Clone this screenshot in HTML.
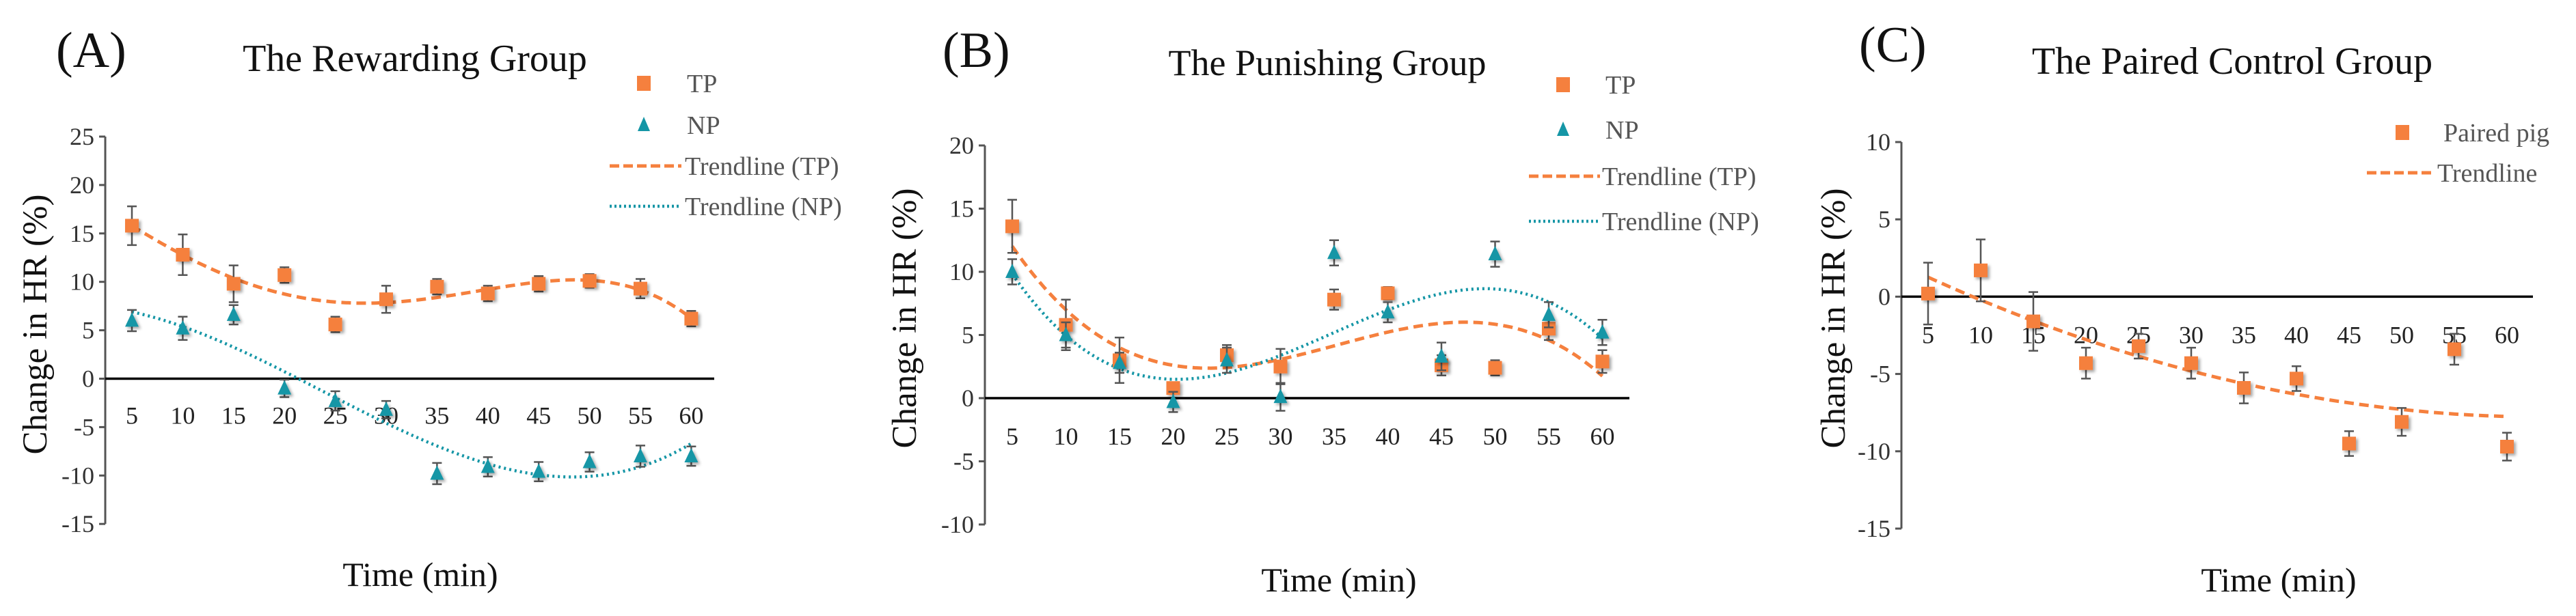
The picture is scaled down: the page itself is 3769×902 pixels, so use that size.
<!DOCTYPE html>
<html><head><meta charset="utf-8"><style>
html,body{margin:0;padding:0;background:#fff;}
svg{display:block;font-family:"Liberation Serif",serif;}
</style></head><body>
<svg id="fig" width="3769" height="902" viewBox="0 0 3769 902" xmlns="http://www.w3.org/2000/svg">
<defs><filter id="sh" x="-50%" y="-50%" width="200%" height="200%"><feDropShadow dx="3" dy="3" stdDeviation="2" flood-color="#000" flood-opacity="0.35"/></filter></defs>
</svg>
<script>
const times = [5,10,15,20,25,30,35,40,45,50,55,60];
const aTP = [15.8,12.8,9.8,10.7,5.6,8.2,9.5,8.8,9.8,10.1,9.3,6.2];
const aTPerr = [2.0,2.1,1.9,0.8,0.8,1.4,0.8,0.8,0.8,0.7,1.0,0.8];
const aNP = [6.0,5.2,6.6,-1.0,-2.3,-3.2,-9.8,-9.1,-9.6,-8.6,-8.0,-8.0];
const aNPerr = [1.1,1.2,1.0,0.9,1.0,0.9,1.1,1.0,1.0,1.0,1.1,1.0];
const bTP = [13.6,5.8,3.0,0.8,3.4,2.5,7.8,8.3,2.6,2.4,5.5,2.9];
const bTPerr = [2.1,2.0,1.8,0.3,0.8,1.4,0.8,0.5,0.8,0.6,0.9,0.9];
const bNP = [10.0,5.0,2.8,-0.3,3.0,0.1,11.5,6.8,3.3,11.4,6.6,5.2];
const bNPerr = [1.0,1.0,0.8,0.8,1.0,1.1,1.0,0.8,1.1,1.0,1.0,1.0];
const cPig = [0.2,1.7,-1.6,-4.3,-3.2,-4.3,-5.9,-5.3,-9.5,-8.1,-3.4,-9.7];
const cPigErr = [2.0,2.0,1.9,1.0,0.8,1.0,1.0,0.8,0.8,0.9,1.0,0.9];
const aTicks = [25,20,15,10,5,0,-5,-10,-15];
const bTicks = [20,15,10,5,0,-5,-10];
const cTicks = [10,5,0,-5,-10,-15];

const NS = "http://www.w3.org/2000/svg";
const svg = document.getElementById('fig');
const ORANGE = "#F5803E", TEAL = "#1596A6";
function mk(tag, attrs, parent){
  const e = document.createElementNS(NS, tag);
  for (const k in attrs) e.setAttribute(k, attrs[k]);
  (parent||svg).appendChild(e); return e;
}
function polyfit(xs, ys, deg){
  const n = deg+1, A = [], b = [];
  for (let i=0;i<n;i++){A.push(new Array(n).fill(0)); b.push(0);}
  xs.forEach((x0,k)=>{const x=x0/60;
    for(let i=0;i<n;i++){b[i]+=ys[k]*Math.pow(x,i);
      for(let j=0;j<n;j++) A[i][j]+=Math.pow(x,i+j);}});
  for(let i=0;i<n;i++){let p=i;for(let r=i+1;r<n;r++) if(Math.abs(A[r][i])>Math.abs(A[p][i])) p=r;
    [A[i],A[p]]=[A[p],A[i]];[b[i],b[p]]=[b[p],b[i]];
    for(let r=0;r<n;r++){ if(r===i) continue; const f=A[r][i]/A[i][i];
      for(let c=i;c<n;c++) A[r][c]-=f*A[i][c]; b[r]-=f*b[i];}}
  const co=b.map((v,i)=>v/A[i][i]);
  return x=>co.reduce((s,c,i)=>s+c*Math.pow(x/60,i),0);
}
function panel(p){
  const g = mk('g', {});
  
  
  const ys = v => p.y0 + (p.yTop - v) * p.perUnit;
  const xs = t => p.x5 + (t-5)/5 * p.dx;
  let t = mk('text', {x:p.letterX, y:p.letterY, 'font-size':74, fill:'#111'}, g); t.textContent = p.letter;
   
  t = mk('text', {x:p.titleX, y:p.titleY, 'font-size':p.titleSize, fill:'#111', 'text-anchor':'middle'}, g); t.textContent = p.title;
   
  const yTopPx = ys(p.ticks[0]), yBotPx = ys(p.ticks[p.ticks.length-1]);
  const ax = mk('line', {x1:p.axisX, x2:p.axisX, y1:yTopPx, y2:yBotPx, stroke:'#555', 'stroke-width':3}, g);
   
  p.ticks.forEach(v=>{
    const y = ys(v);
    mk('line', {x1:p.axisX-9, x2:p.axisX, y1:y, y2:y, stroke:'#555', 'stroke-width':3}, g);
    const tl = mk('text', {x:p.axisX-16, y:y+12, 'font-size':36, fill:'#333', 'text-anchor':'end'}, g);
    tl.textContent = v;
     
  });
  const z = mk('line', {x1:p.axisX, x2:p.zeroEnd, y1:ys(0), y2:ys(0), stroke:'#000', 'stroke-width':3.5}, g);
   
  times.forEach(tm=>{
    const tl = mk('text', {x:xs(tm), y:ys(0)+p.tickOff, 'font-size':36, fill:'#222', 'text-anchor':'middle'}, g);
    tl.textContent = tm;
     
  });
  t = mk('text', {x:0, y:0, 'font-size':51, fill:'#111', 'text-anchor':'middle', transform:`translate(${p.ylabX},${p.ylabY}) rotate(-90)`}, g);
  t.textContent = 'Change in HR (%)';
   
  t = mk('text', {x:p.xlabX, y:p.xlabY, 'font-size':50, fill:'#111', 'text-anchor':'middle'}, g);
  t.textContent = 'Time (min)';
   
  p.series.forEach(s=>{
    const f = polyfit(times, s.vals, s.deg);
    let d = '';
    for (let tm=5; tm<=60.001; tm+=0.5) d += (d?'L':'M') + xs(tm).toFixed(1) + ',' + ys(f(tm)).toFixed(1);
    const tr = mk('path', {d:d, fill:'none', stroke:s.color, 'stroke-width':s.dash==='dot'?4.5:5, 'stroke-dasharray':s.dash==='dot'?'3,5':'14,8'}, g);
     
  });
  p.series.forEach(s=>{
    s.vals.forEach((v,i)=>{
      const x = xs(times[i]), e = s.err[i];
      const eb = mk('path', {d:`M${x},${ys(v+e)}L${x},${ys(v-e)}M${x-7},${ys(v+e)}L${x+7},${ys(v+e)}M${x-7},${ys(v-e)}L${x+7},${ys(v-e)}`, stroke:'#555', 'stroke-width':2.5, fill:'none'}, g);
       
    });
    s.vals.forEach((v,i)=>{
      const x = xs(times[i]), y = ys(v);
      let m;
      if (s.shape==='sq') m = mk('rect', {x:x-10, y:y-10, width:20, height:20, fill:s.color, filter:'url(#sh)'}, g);
      else m = mk('path', {d:`M${x},${y-12}L${x+10},${y+9}L${x-10},${y+9}Z`, fill:s.color, filter:'url(#sh)'}, g);
       
    });
  });
  p.legend.forEach(l=>{
    const lg = mk('g', {}, g);
     
    if (l.type==='sq') mk('rect', {x:l.mx-10, y:l.y-11, width:20, height:22, fill:ORANGE}, lg);
    else if (l.type==='tri') mk('path', {d:`M${l.mx},${l.y-12}L${l.mx+9},${l.y+9}L${l.mx-9},${l.y+9}Z`, fill:TEAL}, lg);
    else mk('line', {x1:l.lx1, x2:l.lx2, y1:l.y, y2:l.y, stroke:l.type==='dash'?ORANGE:TEAL, 'stroke-width':l.type==='dash'?5:4.5, 'stroke-dasharray':l.type==='dash'?'14,6':'3,4'}, lg);
    const tx = mk('text', {x:l.tx, y:l.y+13, 'font-size':38, fill:'#555'}, lg);
    tx.textContent = l.label;
  });
}
panel({name:'panel-a-rewarding', letter:'(A)', letterX:82, letterY:98, title:'The Rewarding Group', titleX:607, titleY:104, titleSize:56,
  axisX:154, yTop:25, y0:200, perUnit:70.9/5, ticks:aTicks, x5:193, dx:74.4, zeroEnd:1045, tickOff:66,
  ylabX:68, ylabY:475, xlabX:615, xlabY:858,
  series:[{key:'tp',vals:aTP,err:aTPerr,color:ORANGE,shape:'sq',deg:4,dash:'dash'},
          {key:'np',vals:aNP,err:aNPerr,color:TEAL,shape:'tri',deg:3,dash:'dot'}],
  legend:[{type:'sq',mx:942,tx:1005,y:122,label:'TP'},{type:'tri',mx:942,tx:1005,y:183,label:'NP'},
          {type:'dash',lx1:892,lx2:997,tx:1002,y:243,label:'Trendline (TP)'},{type:'dot',lx1:892,lx2:997,tx:1002,y:302,label:'Trendline (NP)'}]});
panel({name:'panel-b-punishing', letter:'(B)', letterX:1379, letterY:98, title:'The Punishing Group', titleX:1942, titleY:110, titleSize:54,
  axisX:1441, yTop:20, y0:213, perUnit:92.5/5, ticks:bTicks, x5:1481, dx:78.5, zeroEnd:2384, tickOff:68,
  ylabX:1340, ylabY:466, xlabX:1959, xlabY:866,
  series:[{key:'tp',vals:bTP,err:bTPerr,color:ORANGE,shape:'sq',deg:3,dash:'dash'},
          {key:'np',vals:bNP,err:bNPerr,color:TEAL,shape:'tri',deg:3,dash:'dot'}],
  legend:[{type:'sq',mx:2287,tx:2349,y:124,label:'TP'},{type:'tri',mx:2287,tx:2349,y:190,label:'NP'},
          {type:'dash',lx1:2237,lx2:2341,tx:2344,y:258,label:'Trendline (TP)'},{type:'dot',lx1:2237,lx2:2341,tx:2344,y:324,label:'Trendline (NP)'}]});
panel({name:'panel-c-paired-control', letter:'(C)', letterX:2720, letterY:90, title:'The Paired Control Group', titleX:3266, titleY:108, titleSize:56,
  axisX:2782, yTop:10, y0:208, perUnit:113.2/5, ticks:cTicks, x5:2821, dx:77, zeroEnd:3706, tickOff:68,
  ylabX:2699, ylabY:466, xlabX:3334, xlabY:866,
  series:[{key:'paired',vals:cPig,err:cPigErr,color:ORANGE,shape:'sq',deg:2,dash:'dash'}],
  legend:[{type:'sq',mx:3515,tx:3575,y:194,label:'Paired pig'},{type:'dash',lx1:3463,lx2:3563,tx:3566,y:253,label:'Trendline'}]});
</script>
</body></html>
